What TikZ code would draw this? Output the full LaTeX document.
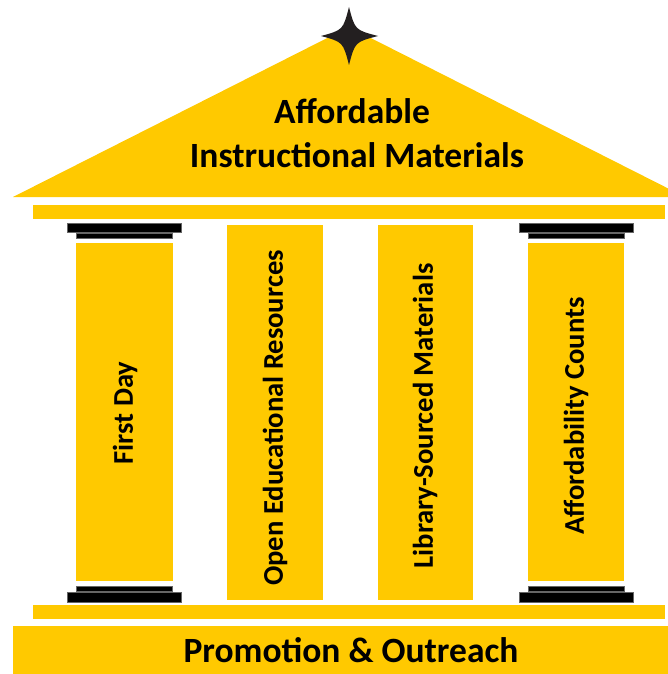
\documentclass[tikz,border=0pt]{standalone}
\usepackage{fontspec}
\setmainfont{Carlito}
\definecolor{gold}{RGB}{255,201,0}
\definecolor{starblack}{RGB}{35,31,32}
\begin{document}
\begin{tikzpicture}[x=1pt,y=-1pt,
  goldfill/.style={fill=gold,draw=none},
  capbar/.style={fill=black,draw=black!60,line width=0.4pt},
  coltext/.style={rotate=90,font=\bfseries\fontsize{28.6}{32}\selectfont,text=black,inner sep=0pt},
  titletext/.style={font=\bfseries\fontsize{35.5}{40}\selectfont,text=black,inner sep=0pt,anchor=base}]
\useasboundingbox (0,0) rectangle (668,674);
\begin{scope}
\clip (0,0) rectangle (668,674);
% roof
\fill[gold] (13,197) -- (349,27) -- (685,197) -- cycle;
% star
\fill[starblack] (349,7) .. controls (343,30) .. (321,36)
  .. controls (343,42) .. (349,65)
  .. controls (355,42) .. (378,36)
  .. controls (355,30) .. (349,7) -- cycle;
% top beam
\fill[gold] (33,205) rectangle (665,219);
% columns
\fill[gold] (76,243) rectangle (173,581);
\fill[gold] (227,225) rectangle (323,600);
\fill[gold] (378,225) rectangle (473,600);
\fill[gold] (528,243) rectangle (624,581);
% capitals
\draw[capbar] (67,223) rectangle (181,232);
\draw[capbar] (76,233) rectangle (172,238);
\draw[capbar] (519,223) rectangle (633,232);
\draw[capbar] (528,233) rectangle (624,238);
% bases
\draw[capbar] (76,586) rectangle (172,591);
\draw[capbar] (67,592) rectangle (181,602);
\draw[capbar] (528,586) rectangle (624,591);
\draw[capbar] (519,592) rectangle (633,602);
% bottom beam
\fill[gold] (33,605) rectangle (665,619);
% foundation
\fill[gold] (13,626) rectangle (670,676);
\end{scope}
% texts
\node[titletext] (t1) at (352,124) {Affordable};
\node[titletext] (t2) at (357,167) {Instructional Materials};
\node[coltext] (c1) at (125,413) {First Day};
\node[coltext] (c2) at (275,418) {Open Educational Resources};
\node[coltext] (c3) at (425,416) {Library-Sourced Materials};
\node[coltext] (c4) at (576,416) {Affordability Counts};
\node[titletext] (f) at (351,662) {Promotion \& Outreach};
\end{tikzpicture}
\end{document}
